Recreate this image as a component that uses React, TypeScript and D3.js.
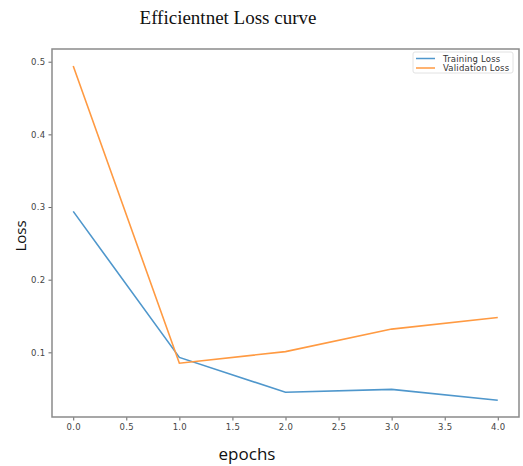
import React, { useRef, useEffect } from 'react';
import * as d3 from 'd3';

const epochs = [0, 1, 2, 3, 4];
const trainingLoss = [0.294, 0.093, 0.045, 0.049, 0.034];
const validationLoss = [0.494, 0.085, 0.101, 0.132, 0.148];
const xTicks = [0, 0.5, 1, 1.5, 2, 2.5, 3, 3.5, 4];
const yTicks = [0.1, 0.2, 0.3, 0.4, 0.5];

const App = () => {
  const ref = useRef<SVGSVGElement>(null);

  useEffect(() => {
    if (!ref.current) return;
    const svg = d3.select(ref.current);
    svg.selectAll('*').remove();

    const W = 523, H = 466;
    const left = 52, right = 519, top = 49, bottom = 417;

    const x = d3.scaleLinear().domain([-0.2, 4.2]).range([left, right]);
    const y = d3.scaleLinear().domain([0.011, 0.5175]).range([bottom, top]);

    svg.append('rect').attr('width', W).attr('height', H).attr('fill', '#fff');

    // Title
    svg.append('text')
      .attr('x', 228).attr('y', 24)
      .attr('text-anchor', 'middle')
      .attr('font-family', '"Liberation Serif", "Times New Roman", serif')
      .attr('font-size', 19)
      .attr('fill', '#111')
      .text('Efficientnet Loss curve');

    // Axes
    const tickFont = '"DejaVu Sans", sans-serif';
    const xAxis = svg.append('g')
      .attr('transform', `translate(0,${bottom})`)
      .call(d3.axisBottom(x).tickValues(xTicks).tickSize(3.5).tickPadding(3).tickFormat(d3.format('.1f')));
    const yAxis = svg.append('g')
      .attr('transform', `translate(${left},0)`)
      .call(d3.axisLeft(y).tickValues(yTicks).tickSize(3.5).tickPadding(3).tickFormat(d3.format('.1f')));
    [xAxis, yAxis].forEach(a => {
      a.select('.domain').remove();
      a.selectAll('line').attr('stroke', '#666');
      a.selectAll('text').attr('fill', '#444').attr('font-size', 8.5)
        .attr('letter-spacing', 0.3).attr('font-family', tickFont);
    });

    // Frame
    svg.append('rect')
      .attr('x', left).attr('y', top)
      .attr('width', right - left).attr('height', bottom - top)
      .attr('fill', 'none').attr('stroke', '#8a8a8a').attr('stroke-width', 1.5);

    // Lines
    const series = [
      { name: 'Training Loss', values: trainingLoss, color: '#4f97cc' },
      { name: 'Validation Loss', values: validationLoss, color: '#ff9a42' },
    ];
    const line = d3.line<number>().x((_, i) => x(epochs[i])).y(d => y(d));
    series.forEach(s => {
      svg.append('path')
        .datum(s.values)
        .attr('fill', 'none')
        .attr('stroke', s.color)
        .attr('stroke-width', 1.6)
        .attr('d', line);
    });

    // Legend
    const lg = svg.append('g').attr('transform', 'translate(413,52)');
    lg.append('rect').attr('width', 100).attr('height', 21).attr('rx', 2)
      .attr('fill', '#fff').attr('stroke', '#e2e2e2');
    series.forEach((s, i) => {
      const yy = 6.5 + i * 9.5;
      lg.append('line').attr('x1', 3).attr('x2', 22).attr('y1', yy).attr('y2', yy)
        .attr('stroke', s.color).attr('stroke-width', 1.5);
      lg.append('text').attr('x', 30).attr('y', yy + 3)
        .attr('font-size', 8.5).attr('letter-spacing', 0.2)
        .attr('font-family', tickFont).attr('fill', '#333')
        .text(s.name);
    });

    // Axis labels
    svg.append('text')
      .attr('x', 247).attr('y', 460)
      .attr('text-anchor', 'middle')
      .attr('font-family', '"Open Sans", sans-serif')
      .attr('font-size', 17)
      .attr('fill', '#111')
      .text('epochs');
    svg.append('text')
      .attr('transform', 'translate(26,236) rotate(-90)')
      .attr('text-anchor', 'middle')
      .attr('font-family', '"Open Sans", sans-serif')
      .attr('font-size', 15)
      .attr('fill', '#111')
      .text('Loss');
  }, []);

  return (
    <svg ref={ref} width={523} height={466}
      style={{ position: 'absolute', left: 0, top: 0, display: 'block' }} />
  );
};

export default App;
